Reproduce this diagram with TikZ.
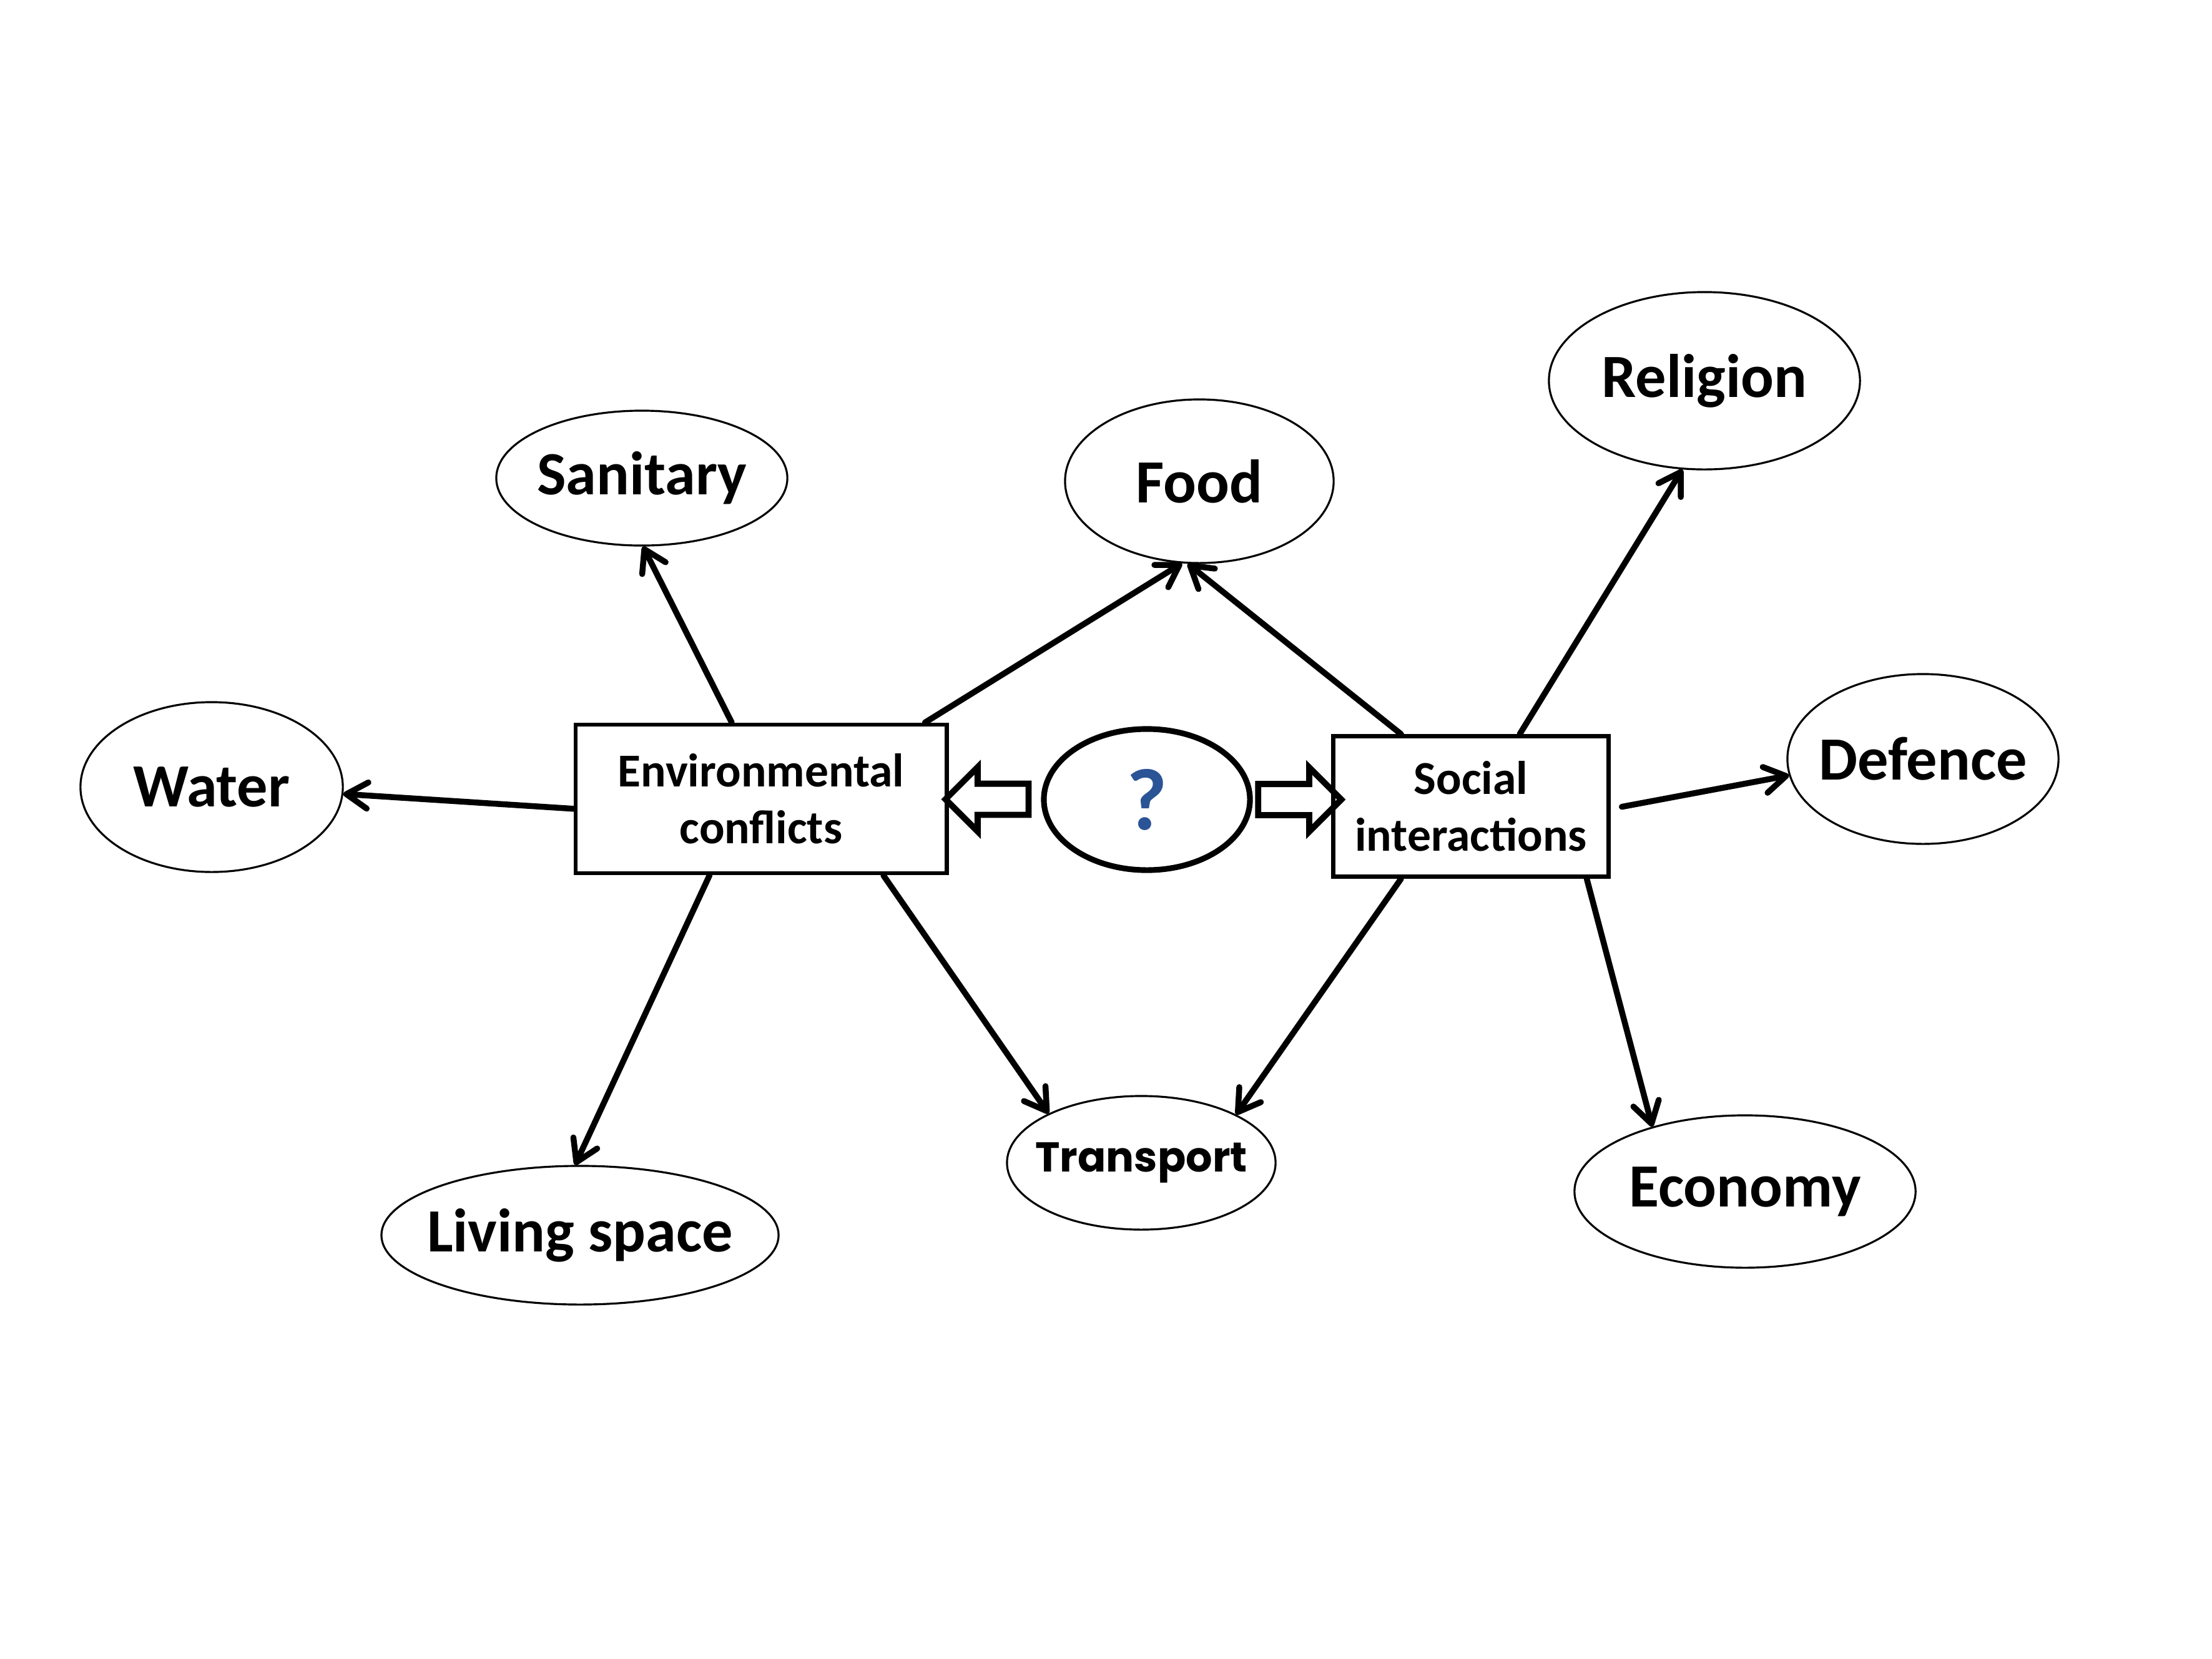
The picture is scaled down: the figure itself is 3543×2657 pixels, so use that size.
\documentclass[tikz,border=0pt]{standalone}
\usepackage{fontspec}
\setmainfont{Carlito}
\newfontfamily\transfont{Poppins}
\usetikzlibrary{arrows.meta,shapes.geometric,shapes.arrows,calc}
\definecolor{qblue}{RGB}{43,84,150}

\begin{document}
\begin{tikzpicture}[x=0.01cm,y=-0.01cm,>={Straight Barb[length=3.4mm,width=4.2mm,round]},
topic/.style={draw,ellipse,line width=0.9pt,inner ysep=0pt,inner xsep=-0.2cm,font=\fontsize{28}{32}\selectfont\bfseries},
box/.style={draw,line width=1.9pt,align=center,inner sep=0pt,font=\fontsize{21.5}{26}\selectfont\bfseries},
link/.style={->,line width=2.7pt,line cap=round},
hollow/.style={draw,single arrow,line width=2.8pt,minimum height=1.33cm,inner xsep=0pt,inner ysep=0.2cm,single arrow head extend=0.265cm,single arrow tip angle=90}]
\useasboundingbox (0,0) rectangle (3543,2657);
% centre
\node[box,minimum width=5.94cm,minimum height=2.38cm] (env) at (1219,1280) {Environmental\\conflicts};
\node[box,minimum width=4.41cm,minimum height=2.25cm] (social) at (2356,1292) {Social\\interactions};
\node[draw,ellipse,line width=2.6pt,minimum width=3.3cm,minimum height=2.26cm,inner sep=0pt,font=\fontsize{40}{44}\selectfont\bfseries,text=qblue] (ask) at (1837,1281) {?};
\node[hollow,shape border rotate=180] (toenv) at ($(env.east)!0.5!(ask.west)$) {};
\node[hollow] (tosocial) at ($(ask.east)!0.5!(social.west|-ask.east)$) {};
% topics
\node[topic,minimum width=4.2cm,minimum height=2.72cm] (water) at (339,1261) {Water};
\node[topic,minimum width=4.66cm,minimum height=2.16cm] (sanitary) at (1028,766) {Sanitary};
\node[topic,minimum width=4.3cm,minimum height=2.62cm] (food) at (1921,771) {Food};
\node[topic,minimum width=4.98cm,minimum height=2.84cm] (religion) at (2730,610) {Religion};
\node[topic,minimum width=4.34cm,minimum height=2.72cm] (defence) at (3080,1216) {Defence};
\node[topic,minimum width=5.46cm,minimum height=2.44cm] (economy) at (2795,1909) {Economy};
\node[topic,minimum width=6.34cm,minimum height=2.22cm] (living) at (929,1979) {Living space};
\node[topic,minimum width=4.3cm,minimum height=2.14cm,font=\fontsize{19}{23}\transfont\bfseries] (transport) at (1828,1863) {Transport};
% links
\draw[link] (env.183) -- (water.-3);
\draw[link] (env.111) -- (sanitary.-89);
\draw[link] (env.25) -- (food.258);
\draw[link] (env.236) -- (living.94);
\draw[link] (env.-32) -- (transport.152);
\draw[link] (social.134) -- (food.262);
\draw[link] (social.56) -- (religion.256);
\draw[link,shorten <=0.18cm] (social.-1) -- (defence.187);
\draw[link] (social.-32) -- (economy.145);
\draw[link] (social.226) -- (transport.27);
\end{tikzpicture}
\end{document}
